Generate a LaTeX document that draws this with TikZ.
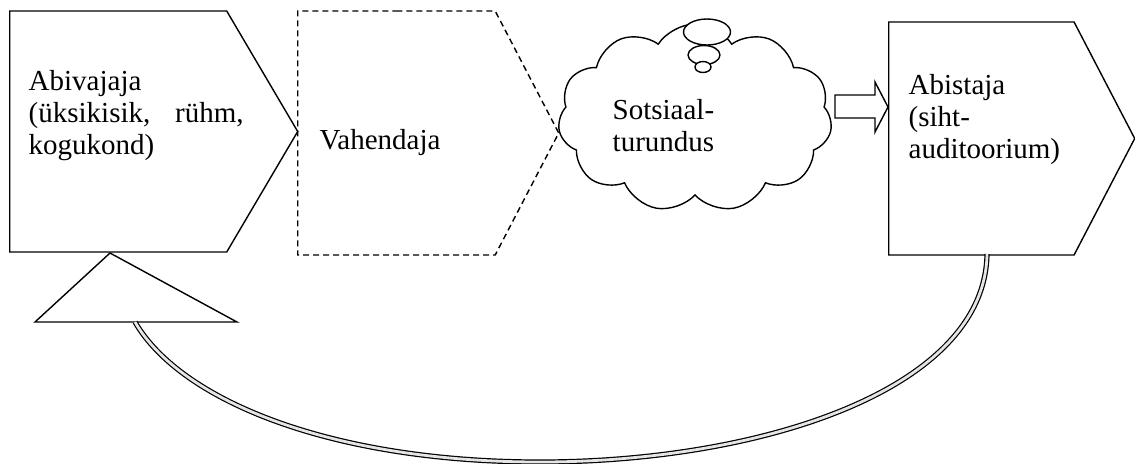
\documentclass[tikz,border=0pt]{standalone}
\usepackage{fontspec}
\setmainfont{Liberation Serif}
\usetikzlibrary{shapes.arrows,shapes.symbols,positioning,calc}

\begin{document}
\begin{tikzpicture}[x=0.5pt,y=-0.5pt,
  line width=0.7pt,
  block/.style={signal,signal to=east,draw,inner sep=0pt,anchor=west},
  txt/.style={font=\fontsize{14.5pt}{16pt}\selectfont,inner sep=0pt,align=left,anchor=base west,text width=100pt},
  backline/.style={double=gray!20,double distance=1.4pt,line width=0.6pt}]
\useasboundingbox (0,0) rectangle (1135,463);
\node[block,signal pointer angle=119,minimum width=144pt,minimum height=120.5pt] (src) at (9,131.5) {};
\node[block,dash pattern=on 3pt off 2pt,signal pointer angle=125,minimum width=130.5pt,minimum height=122pt] (mid) at (297,133) {};
\node[block,signal pointer angle=125,minimum width=123pt,minimum height=116.5pt] (dst) at (888,138.5) {};
\node[cloud,draw,fill=white,cloud puffs=11,cloud puff arc=115,
      minimum width=137pt,minimum height=94pt] (cl) at (695,118) {};
\draw[fill=white] (707,32) ellipse [x radius=11.75pt,y radius=6.5pt];
\draw[fill=white] (704,55) ellipse [x radius=8pt,y radius=4.75pt];
\draw[fill=white] (703,67) ellipse [x radius=4pt,y radius=2.75pt];
\draw[fill=white] (835,95) -- (875,95) -- (875,82) -- (dst.west |- 0,107) -- (875,132) -- (875,118) -- (835,118) -- cycle;
\node[txt,text width=107.5pt] (srctxt) at (28,90) {Abivajaja\\(üksikisik,\hfill rühm,\\kogukond)};
\node[txt] (midtxt) at (319,149) {Vahendaja};
\node[txt,text width=80pt] (cltxt) at (612,119) {Sotsiaal-\\turundus};
\node[txt] (dsttxt) at (908,94) {Abistaja\\(siht-\\auditoorium)};
\coordinate (t1) at (110,253);
\coordinate (t2) at (35,322);
\coordinate (t3) at (237,322);
\draw (t1) -- (t2) -- (t3) -- cycle;
\coordinate (back) at (987,254);
\coordinate (tri) at (135,322);
\draw[backline] (back) .. controls (985,390) and (760,462) .. (540,462)
  .. controls (330,462) and (180,400) .. (tri);
\end{tikzpicture}
\end{document}
